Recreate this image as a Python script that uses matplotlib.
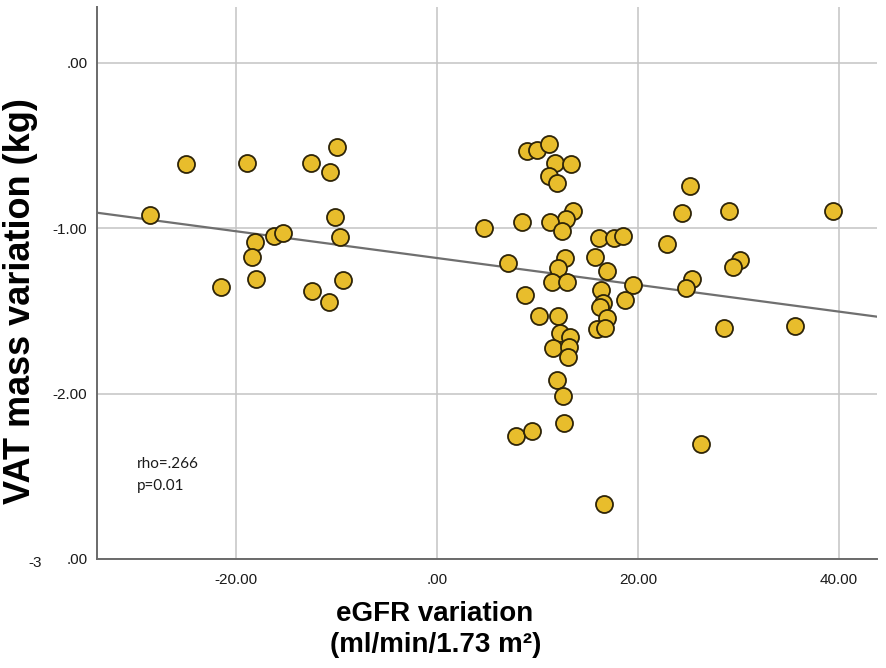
import matplotlib
matplotlib.use("Agg")
import matplotlib.pyplot as plt
import numpy as np

# ---- data ----
egfr_var = [
    -28.56, -24.98, -18.91, -12.54, -9.95, -10.65, -10.15, -16.22, -15.32, -18.11,
    -18.41, -18.01, -21.49, -12.44, -10.75, -9.35, -9.65,
    4.68, 7.06, 8.46, 8.76, 8.96, 9.95, 11.14, 11.74, 13.33,
    11.14, 11.94, 13.53, 12.84, 11.24, 12.44, 16.12, 17.61, 18.51, 15.72,
    16.92, 12.74, 12.04, 11.44, 12.94, 19.50, 16.32, 18.71, 16.52, 16.22,
    10.15, 12.04, 16.92, 15.92, 16.72, 12.24, 13.23, 11.54, 13.13, 13.03,
    11.94, 12.54, 12.64, 7.86, 9.45, 16.62,
    25.17, 24.38, 29.05, 39.40, 22.89, 30.15, 29.45, 25.37, 24.78, 28.56,
    35.62, 26.27,
]
vat_var = [
    -0.918, -0.610, -0.604, -0.604, -0.508, -0.659, -0.931, -1.045, -1.027, -1.082,
    -1.172, -1.305, -1.353, -1.378, -1.444, -1.311, -1.051,
    -0.997, -1.208, -0.961, -1.402, -0.532, -0.526, -0.489, -0.604, -0.610,
    -0.683, -0.725, -0.894, -0.943, -0.961, -1.015, -1.057, -1.057, -1.045, -1.172,
    -1.257, -1.178, -1.239, -1.323, -1.323, -1.341, -1.372, -1.432, -1.450, -1.474,
    -1.529, -1.529, -1.541, -1.607, -1.601, -1.631, -1.656, -1.722, -1.716, -1.776,
    -1.915, -2.012, -2.175, -2.254, -2.224, -2.665,
    -0.743, -0.906, -0.894, -0.894, -1.094, -1.190, -1.233, -1.305, -1.360, -1.601,
    -1.589, -2.302,
]
fit_intercept = -1.180
fit_slope = -0.0081

x_ticks = [-20, 0, 20, 40]
x_tick_labels = ["-20.00", ".00", "20.00", "40.00"]
y_ticks = [0, -1, -2, -3]
y_tick_labels = [".00", "-1.00", "-2.00", ".00"]

stats_text = "rho=.266\np=0.01"

# ---- figure ----
W, H = 886, 668
fig = plt.figure(figsize=(W / 100, H / 100), dpi=100)
ax = fig.add_axes([97 / W, 1 - 559 / H, (877 - 97) / W, (559 - 7) / H])

ax.set_xlim(-33.83, 43.78)
ax.set_ylim(-2.997, 0.338)

ax.grid(True, color="#c4c4c4", linewidth=1.1, zorder=0)
ax.set_axisbelow(True)

ax.axline((0, fit_intercept), slope=fit_slope, color="#6f6f6f", linewidth=1.6, zorder=2)

ax.scatter(egfr_var, vat_var, s=150, facecolor="#e8bd2c", edgecolor="#2e2408",
           linewidth=1.3, zorder=3)

for side in ["top", "right"]:
    ax.spines[side].set_visible(False)
for side in ["left", "bottom"]:
    ax.spines[side].set_color("#6a6a6a")
    ax.spines[side].set_linewidth(1.4)

ax.set_xticks(x_ticks)
ax.set_xticklabels(x_tick_labels, fontfamily="Liberation Sans", fontsize=11)
ax.set_yticks(y_ticks)
ax.set_yticklabels(y_tick_labels, fontfamily="Liberation Sans", fontsize=11)
ax.tick_params(axis="both", length=0, colors="#1a1a1a")
ax.tick_params(axis="x", pad=10)
ax.tick_params(axis="y", pad=7)

# stray "-3" label left of bottom y tick
fig.text(35 / W, 1 - 563 / H, "-3", ha="center", va="center",
         fontfamily="Liberation Sans", fontsize=11, color="#1a1a1a")

ax.text((137 - 97) / (877 - 97), 1 - (475 - 7) / (559 - 7), stats_text,
        transform=ax.transAxes, ha="left", va="center", fontfamily="Lato",
        fontsize=11, linespacing=1.75, color="#1a1a1a")

# axis titles
fig.text(21 / W, 1 - 301 / H, "VAT mass variation (kg)", rotation=90,
         ha="center", va="center", fontfamily="Liberation Sans",
         fontweight="bold", fontsize=26)
fig.text(435 / W, 1 - 621 / H, "eGFR variation", ha="center", va="baseline",
         fontfamily="Liberation Sans", fontweight="bold", fontsize=20)
fig.text(436 / W, 1 - 652 / H, "(ml/min/1.73 m²)", ha="center", va="baseline",
         fontfamily="Liberation Sans", fontweight="bold", fontsize=20)

fig.savefig("out.png", dpi=100)
